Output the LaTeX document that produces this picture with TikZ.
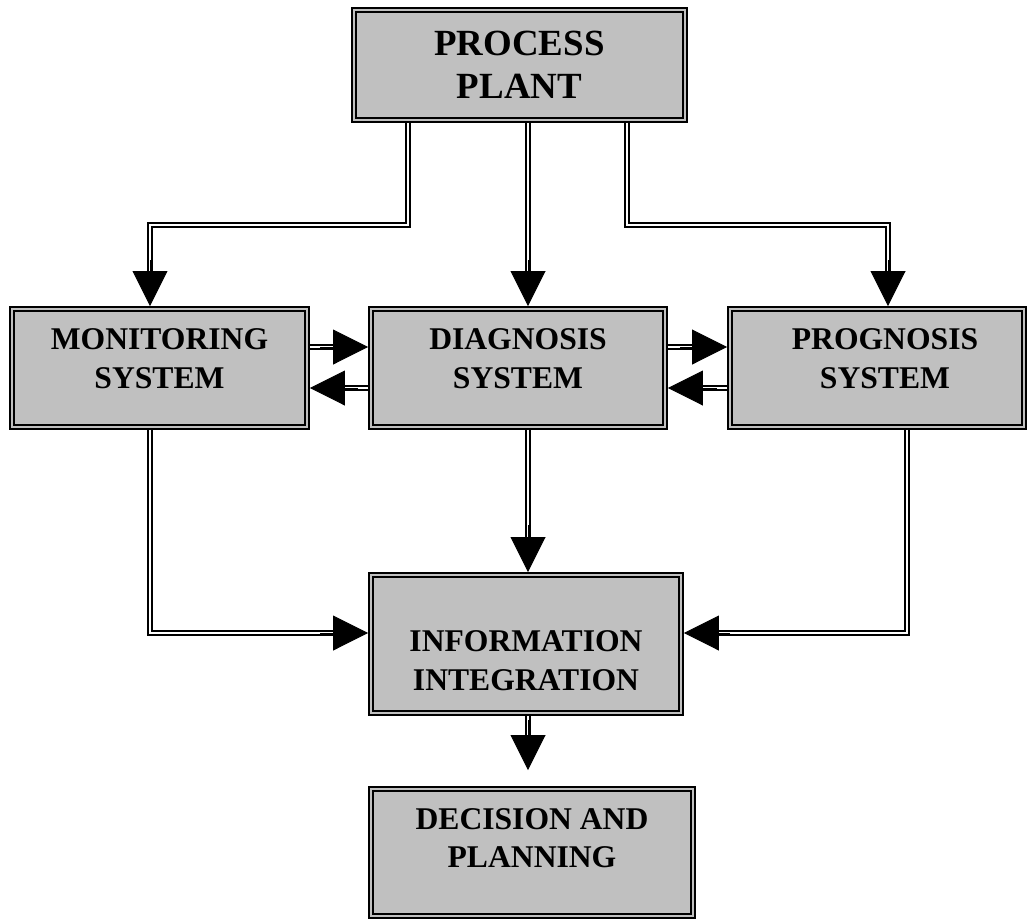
\documentclass[tikz,border=0pt]{standalone}
\usepackage{fontspec}
\setmainfont{Liberation Serif}
\usepackage{tikz}
\usetikzlibrary{arrows.meta,calc}
\definecolor{boxgray}{RGB}{192,192,192}

\begin{document}
\begin{tikzpicture}[
    x=0.02cm, y=-0.02cm,
    box/.style={rectangle, draw=black, fill=boxgray, double=boxgray, line width=1.2pt, double distance=1pt, inner sep=0pt, outer sep=1.7pt},
    lbl/.style={font=\fontsize{18}{22}\selectfont\bfseries, align=center, inner sep=0pt},
    pipe/.style={draw=black, double=white, line width=1.1pt, double distance=1.3pt, shorten >=0.66cm},
    head/.style={-{Triangle[width=0.7cm,length=0.7cm]}, line width=0.5pt}
]
\useasboundingbox (0,0) rectangle (1032,920);

% boxes
\node[box, minimum width=6.62cm, minimum height=2.2cm] (plant) at (519.5,65) {};
\node[box, minimum width=5.9cm, minimum height=2.36cm] (mon) at (159.5,368) {};
\node[box, minimum width=5.88cm, minimum height=2.36cm] (diag) at (518,368) {};
\node[box, minimum width=5.88cm, minimum height=2.36cm] (prog) at (877,368) {};
\node[box, minimum width=6.2cm, minimum height=2.76cm] (info) at (526,644) {};
\node[box, minimum width=6.44cm, minimum height=2.54cm] (dec) at (532,852.5) {};

% texts
\node[lbl, font=\fontsize{21}{24.7}\selectfont\bfseries] (planttxt) at (plant) {PROCESS\\PLANT};
\node[lbl] (montxt) at ([yshift=0.19cm]mon) {MONITORING\\SYSTEM};
\node[lbl] (diagtxt) at ([yshift=0.19cm]diag) {DIAGNOSIS\\SYSTEM};
\node[lbl] (progtxt) at ([xshift=0.16cm,yshift=0.19cm]prog) {PROGNOSIS\\SYSTEM};
\node[lbl] (infotxt) at ([yshift=-0.34cm]info) {INFORMATION\\INTEGRATION};
\node[lbl] (dectxt) at ([yshift=0.29cm]dec) {DECISION AND\\PLANNING};

\coordinate (dectip) at ($(528,0 |- dec.north)+(0,-16)$);

% plant to the three systems
\draw[pipe] (408,0 |- plant.south) |- (150,225) -- (150,0 |- mon.north);
\draw[head] (150,260) -- (150,0 |- mon.north);
\draw[pipe] (528,0 |- plant.south) -- (528,0 |- diag.north);
\draw[head] (528,260) -- (528,0 |- diag.north);
\draw[pipe] (627,0 |- plant.south) |- (888,225) -- (888,0 |- prog.north);
\draw[head] (888,260) -- (888,0 |- prog.north);

% between the systems
\draw[pipe] (mon.east |- 0,347) -- (diag.west |- 0,347);
\draw[head] (320,347) -- (diag.west |- 0,347);
\draw[pipe] (diag.west |- 0,388) -- (mon.east |- 0,388);
\draw[head] (358,388) -- (mon.east |- 0,388);
\draw[pipe] (diag.east |- 0,347) -- (prog.west |- 0,347);
\draw[head] (680,347) -- (prog.west |- 0,347);
\draw[pipe] (prog.west |- 0,388) -- (diag.east |- 0,388);
\draw[head] (717,388) -- (diag.east |- 0,388);

% into the integration
\draw[pipe] (150,0 |- mon.south) |- (info.west |- 0,633);
\draw[head] (320,633) -- (info.west |- 0,633);
\draw[pipe] (528,0 |- diag.south) -- (528,0 |- info.north);
\draw[head] (528,525) -- (528,0 |- info.north);
\draw[pipe] (907,0 |- prog.south) |- (info.east |- 0,633);
\draw[head] (730,633) -- (info.east |- 0,633);

% to decision
\draw[pipe] (528,0 |- info.south) -- (dectip);
\draw[head] (528,720) -- (dectip);
\end{tikzpicture}
\end{document}
